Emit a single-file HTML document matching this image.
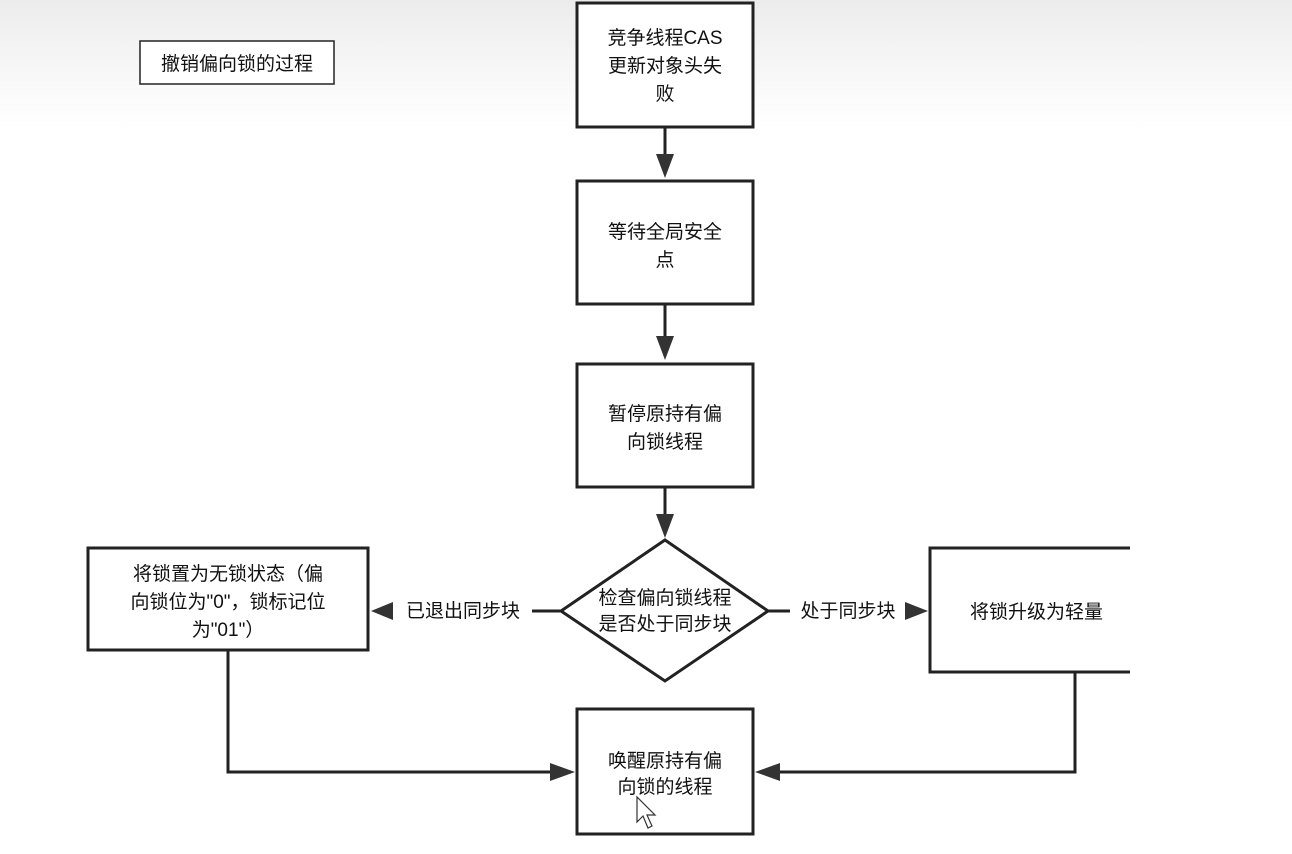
<!DOCTYPE html>
<html><head><meta charset="utf-8"><style>
html,body{margin:0;padding:0;}
body{width:1292px;height:854px;overflow:hidden;background:linear-gradient(#ececec 0px,#fafafa 90px,#fff 130px);}
svg{position:absolute;left:0;top:0;}
text{font-family:"Liberation Sans","Noto Sans CJK SC",sans-serif;font-size:19px;fill:#111;}
</style></head><body>
<svg width="1292" height="854" viewBox="0 0 1292 854">
<defs><marker id="a" markerWidth="8" markerHeight="8" refX="7" refY="4" orient="auto" markerUnits="userSpaceOnUse"><path d="M0,0 L8,4 L0,8z" fill="#333"/></marker></defs>
<g fill="none" stroke="#222" stroke-width="3">
<rect x="140" y="41" width="194" height="43" stroke-width="1.5" fill="#fff"/>
<rect x="577" y="3" width="176" height="124" fill="#fff"/>
<rect x="577" y="181" width="176" height="123" fill="#fff"/>
<rect x="577" y="364" width="176" height="123" fill="#fff"/>
<polygon points="665,540 768,611 665,681 561,611" fill="#fff"/>
<rect x="88" y="548" width="280" height="102" fill="#fff"/>
<path d="M1130,548 L930,548 L930,672 L1130,672" fill="#fff"/>
<rect x="577" y="709" width="176" height="125" fill="#fff"/>
<path d="M665,127 V158 M665,304 V340 M665,487 V518 M561,611 H532 M768,611 H790 M228,650 V772 H552 M1075,672 V772 H778"/>
</g>
<g fill="#333">
<path d="M656,154 L674,154 L665,178z"/>
<path d="M656,336 L674,336 L665,360z"/>
<path d="M656,514 L674,514 L665,538z"/>
<path d="M393,602 L393,620 L371,611z"/>
<path d="M905,602 L905,620 L928,611z"/>
<path d="M550,763 L550,781 L575,772z"/>
<path d="M780,763 L780,781 L755,772z"/>
</g>
<text x="237" y="70" text-anchor="middle" font-size="17">撤销偏向锁的过程</text>
<text x="665" y="44" text-anchor="middle">竞争线程CAS</text>
<text x="665" y="72" text-anchor="middle">更新对象头失</text>
<text x="665" y="100" text-anchor="middle">败</text>
<text x="665" y="238" text-anchor="middle">等待全局安全</text>
<text x="665" y="266" text-anchor="middle">点</text>
<text x="665" y="420" text-anchor="middle">暂停原持有偏</text>
<text x="665" y="448" text-anchor="middle">向锁线程</text>
<text x="665" y="604" text-anchor="middle">检查偏向锁线程</text>
<text x="665" y="630" text-anchor="middle">是否处于同步块</text>
<text x="463" y="617" text-anchor="middle">已退出同步块</text>
<text x="848" y="617" text-anchor="middle">处于同步块</text>
<text x="228" y="580" text-anchor="middle">将锁置为无锁状态（偏</text>
<text x="228" y="608" text-anchor="middle">向锁位为"0"，锁标记位</text>
<text x="228" y="636" text-anchor="middle">为"01"）</text>
<text x="970" y="618">将锁升级为轻量</text>
<text x="665" y="767" text-anchor="middle">唤醒原持有偏</text>
<text x="665" y="793" text-anchor="middle">向锁的线程</text>
<path d="M637,797 L637,822 L643,816 L648,828 L652,826 L647,815 L655,815z" fill="#fff" stroke="#333" stroke-width="1.2"/>
</svg>
</body></html>
